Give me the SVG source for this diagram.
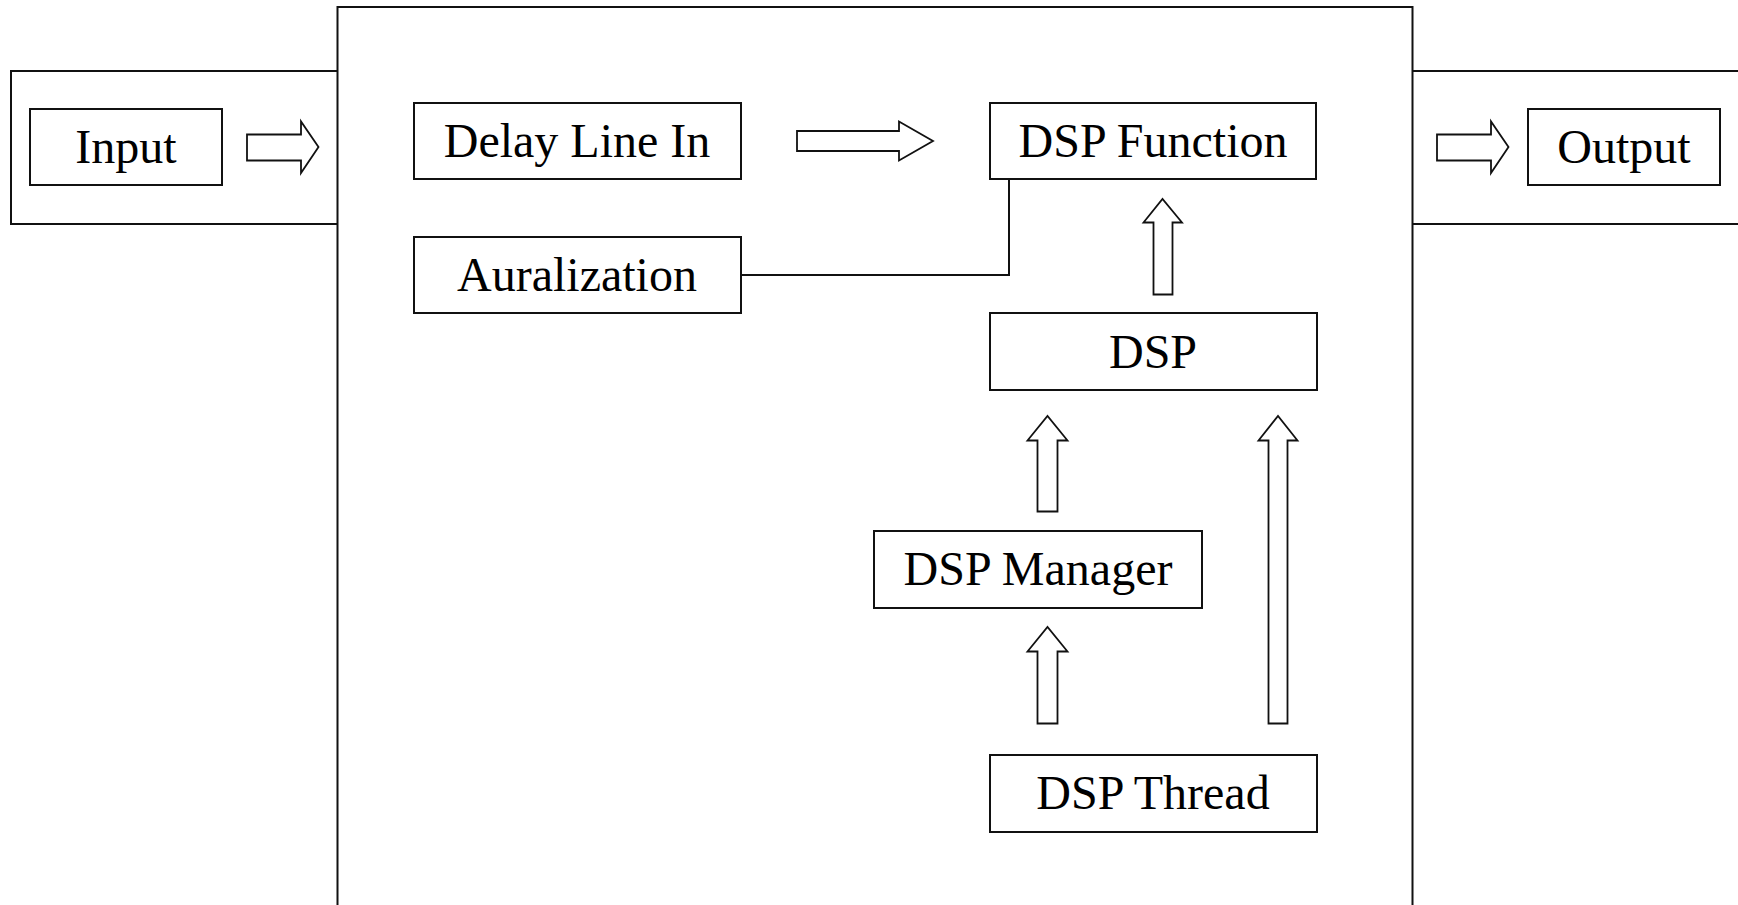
<svg xmlns="http://www.w3.org/2000/svg" width="1738" height="905" viewBox="0 0 1738 905">
<style>
.frame{fill:none;stroke:#111;stroke-width:2}
.box{fill:#fff;stroke:#111;stroke-width:2}
.arr{fill:#fff;stroke:#111;stroke-width:1.8;stroke-linejoin:miter}
.line{fill:none;stroke:#111;stroke-width:2}
text{font-family:"Liberation Serif","Times New Roman",serif;font-size:48px;fill:#000;text-anchor:middle}
</style>
<rect width="1738" height="905" fill="#fff"/>
<g id="frames">
<path class="frame" d="M337.5,905 V7 H1412.5 V905"/>
<path class="frame" d="M337.5,71 H11 V224 H337.5"/>
<path class="frame" d="M1412.5,71 H1740 M1412.5,224 H1740"/>
</g>
<g id="input"><rect class="box" x="30" y="109" width="192" height="76"/><text x="126" y="163">Input</text></g>
<g id="delay-line-in"><rect class="box" x="414" y="103" width="327" height="76"/><text x="577" y="157">Delay Line In</text></g>
<g id="auralization"><rect class="box" x="414" y="237" width="327" height="76"/><text x="577" y="291">Auralization</text></g>
<g id="dsp-function"><rect class="box" x="990" y="103" width="326" height="76"/><text x="1153" y="157">DSP Function</text></g>
<g id="output"><rect class="box" x="1528" y="109" width="192" height="76"/><text x="1624" y="163">Output</text></g>
<g id="dsp"><rect class="box" x="990" y="313" width="327" height="77"/><text x="1153" y="368">DSP</text></g>
<g id="dsp-manager"><rect class="box" x="874" y="531" width="328" height="77"/><text x="1038" y="585">DSP Manager</text></g>
<g id="dsp-thread"><rect class="box" x="990" y="755" width="327" height="77"/><text x="1153" y="809">DSP Thread</text></g>
<g id="connectors">
<path class="arr" d="M247,134.5 H301 V121.5 L318.5,147 L301,173 V160.5 H247 Z"/>
<path class="arr" d="M797,131 H899 V121.5 L933,141 L899,160.5 V151 H797 Z"/>
<path class="arr" d="M1437,134.5 H1491 V121.5 L1508.5,147 L1491,173 V160.5 H1437 Z"/>
<path class="line" d="M741,275 H1009 V179"/>
<path class="arr" d="M1153.5,294.5 V222.5 H1143.5 L1162.5,199 L1182,222.5 H1172.5 V294.5 Z"/>
<path class="arr" d="M1037.5,511.5 V440.5 H1027.5 L1047.5,416 L1067.5,440.5 H1057.5 V511.5 Z"/>
<path class="arr" d="M1037.5,723.5 V651.5 H1027.5 L1047.5,627 L1067.5,651.5 H1057.5 V723.5 Z"/>
<path class="arr" d="M1268.5,723.5 V440.5 H1258.5 L1278,416 L1297.5,440.5 H1287.5 V723.5 Z"/>
</g>
</svg>
